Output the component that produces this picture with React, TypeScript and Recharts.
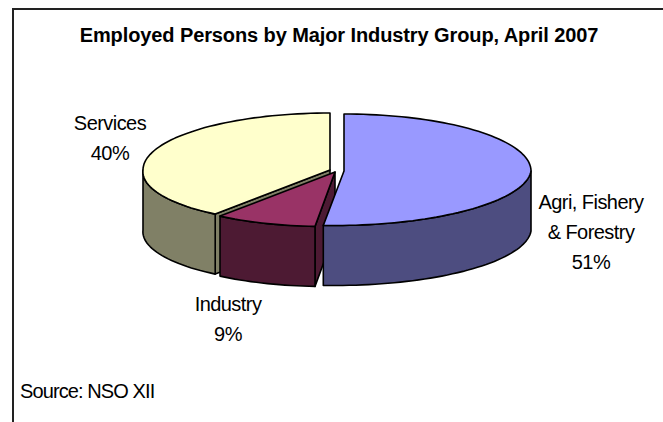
import React from "react";
import { PieChart, Pie } from "recharts";

const sliceNames = ["Services", "Industry", "Agri, Fishery & Forestry"];
const sliceValues = [40, 9, 51];
const titleText = "Employed Persons by Major Industry Group, April 2007";
const sourceText = "Source: NSO XII";

const data = sliceNames.map((name, i) => ({ name, value: sliceValues[i] }));

type Look = {
  top: string; wall: string; dx: number; dy: number; rx: number; k: number; lines: string[]; lx: number; ly: number;
};
const looks: Look[] = [
  { top: "#FFFFCC", wall: "#808066", dx: -7, dy: -1, rx: 187, k: 6, lines: ["Services", "40%"], lx: 110, ly: 130 },
  { top: "#993366", wall: "#4D1A33", dx: -2, dy: 1, rx: 184, k: 8.5, lines: ["Industry", "9%"], lx: 228, ly: 311 },
  { top: "#9999FF", wall: "#4D4D80", dx: 7, dy: 0, rx: 187, k: 9, lines: ["Agri, Fishery", "& Forestry", "51%"], lx: 591, ly: 209 },
];

const RY_BACK = 57;
const RY_FRONT = 54.5;
const DEPTH = 60;

function rim(cx: number, cy: number, rx: number, k: number, deg: number, drop = 0) {
  const r = (deg * Math.PI) / 180;
  const s = -Math.sin(r); // screen-down positive
  return [cx + rx * Math.cos(r) - (s > 0 ? k * s : 0), cy + (s > 0 ? RY_FRONT : RY_BACK) * s + drop];
}
function poly(pts: number[][]) {
  return pts.map((p, i) => `${i ? "L" : "M"}${p[0].toFixed(1)} ${p[1].toFixed(1)}`).join(" ") + " Z";
}

function Slice3D(props: any) {
  const { cx, cy, startAngle, endAngle, index } = props;
  const look = looks[index ?? 0];
  const ax = cx + look.dx;
  const ay = cy + look.dy;
  const rx = look.rx;
  const k = look.k;
  const a0 = Math.min(startAngle, endAngle);
  const a1 = Math.max(startAngle, endAngle);
  const arc = (from: number, to: number, drop = 0) => {
    const pts: number[][] = [];
    const n = Math.max(2, Math.ceil(Math.abs(to - from) / 2));
    for (let i = 0; i <= n; i++) pts.push(rim(ax, ay, rx, k, from + ((to - from) * i) / n, drop));
    return pts;
  };
  const stroke = { stroke: "#000", strokeWidth: 1.6, strokeLinejoin: "round" as const };
  const paths: React.ReactNode[] = [];

  // cut walls (facing the viewer only)
  const cutWall = (deg: number, sideSign: number) => {
    const p = rim(ax, ay, rx, k, deg);
    const ex = p[0] - ax;
    if (sideSign * ex > 0) {
      paths.push(
        <path key={`cut${deg}`} d={poly([[ax, ay], p, [p[0], p[1] + DEPTH], [ax, ay + DEPTH]])} fill={look.wall} {...stroke} />
      );
    }
  };
  cutWall(a0, 1);
  cutWall(a1, -1);

  // outer wall: the part of the rim between 180 and 360 degrees
  const w0 = Math.max(a0, 180);
  const w1 = Math.min(a1, 360);
  if (w1 > w0) {
    const topEdge = arc(w0, w1);
    const lowEdge = arc(w1, w0, DEPTH);
    paths.push(<path key="wall" d={poly([...topEdge, ...lowEdge])} fill={look.wall} {...stroke} />);
  }
  // top face
  paths.push(<path key="top" d={poly([[ax, ay], ...arc(a0, a1)])} fill={look.top} {...stroke} />);
  return <g>{paths}</g>;
}

function SliceLabel(props: any) {
  const look = looks[props.index ?? 0];
  return (
    <text
      x={look.lx}
      y={look.ly}
      textAnchor="middle"
      fontFamily="'Liberation Sans', Arial, sans-serif"
      fontSize={20}
      letterSpacing={-0.55}
      fill="#000"
    >
      {look.lines.map((l, i) => (
        <tspan key={i} x={look.lx} y={look.ly + i * 30}>
          {l}
        </tspan>
      ))}
    </text>
  );
}

export default function App() {
  return (
    <div style={{ position: "absolute", left: 0, top: 0, width: 663, height: 422, background: "#fff", overflow: "hidden" }}>
      <div style={{ position: "absolute", left: 12, top: 8, width: 660, height: 420, borderTop: "2px solid #222", borderLeft: "2px solid #222" }} />
      <div
        style={{
          position: "absolute", left: 0, top: 25, width: 678, textAlign: "center", whiteSpace: "nowrap",
          fontFamily: "'Liberation Sans', Arial, sans-serif", fontWeight: 700, fontSize: 20, letterSpacing: -0.1, color: "#000", lineHeight: "20px",
        }}
      >
        {titleText}
      </div>
      <div
        style={{
          position: "absolute", left: 20, top: 381,
          fontFamily: "'Liberation Sans', Arial, sans-serif", fontSize: 20, letterSpacing: -0.9, color: "#000", lineHeight: "20px",
        }}
      >
        {sourceText}
      </div>
      <div style={{ position: "absolute", left: 0, top: 0 }}>
        <PieChart width={663} height={422} margin={{ top: 0, right: 0, bottom: 0, left: 0 }}>
          <Pie
            data={data}
            dataKey="value"
            nameKey="name"
            cx={337}
            cy={171}
            innerRadius={0}
            outerRadius={190}
            startAngle={90}
            endAngle={450}
            paddingAngle={0}
            stroke="none"
            isAnimationActive={false}
            shape={Slice3D}
            label={SliceLabel}
            labelLine={false}
          />
        </PieChart>
      </div>
    </div>
  );
}
